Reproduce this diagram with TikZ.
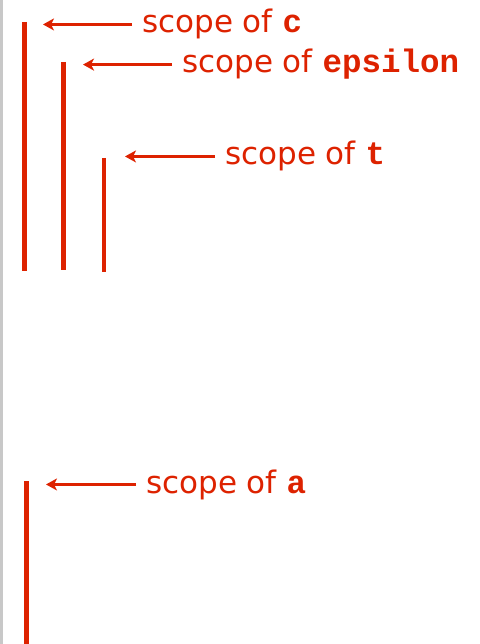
\documentclass[tikz,border=0pt]{standalone}
\usepackage{fontspec}
\setmainfont{DejaVu Sans}
\newfontfamily\codefont{Liberation Mono}
\usetikzlibrary{arrows.meta}
\definecolor{scopered}{RGB}{221,34,0}
\definecolor{edgegrey}{RGB}{200,200,200}
\begin{document}
\begin{tikzpicture}[x=1pt,y=-1pt,
  scopebar/.style={draw=scopered,line width=4.8pt},
  pointer/.style={draw=scopered,line width=2.2pt,-{Stealth[length=11pt,width=12pt,inset=3pt]}},
  scopelabel/.style={anchor=base west,inner xsep=10pt,inner ysep=0pt,text=scopered,font=\fontsize{31}{31}\selectfont}]
\useasboundingbox (0,0) rectangle (479,644);
\fill[edgegrey] (0,0) rectangle (3,644);
% scope bars
\draw[scopebar] (24.3,22) -- (24.3,271);
\draw[scopebar] (63.3,62) -- (63.3,270);
\draw[scopebar] (104,158) -- (104,272);
\draw[scopebar] (26.7,481) -- (26.7,644);
% labels
\node[scopelabel] (lc) at (132,33) {scope of {\codefont\bfseries\fontsize{32.5}{32.5}\selectfont c}};
\node[scopelabel] (le) at (172,73) {scope of {\codefont\bfseries\fontsize{32.5}{32.5}\selectfont epsilon}};
\node[scopelabel] (lt) at (215,165) {scope of {\codefont\bfseries\fontsize{32.5}{32.5}\selectfont t}};
\node[scopelabel] (la) at (136,493) {scope of {\codefont\bfseries\fontsize{32.5}{32.5}\selectfont a}};
% pointers
\coordinate (hc) at (43,25);
\coordinate (he) at (83,66);
\coordinate (ht) at (125,158);
\coordinate (ha) at (46,484);
\draw[pointer] (lc.west) -- (lc.west -| hc);
\draw[pointer] (le.west) -- (le.west -| he);
\draw[pointer] (lt.west) -- (lt.west -| ht);
\draw[pointer] (la.west) -- (la.west -| ha);
\end{tikzpicture}
\end{document}
